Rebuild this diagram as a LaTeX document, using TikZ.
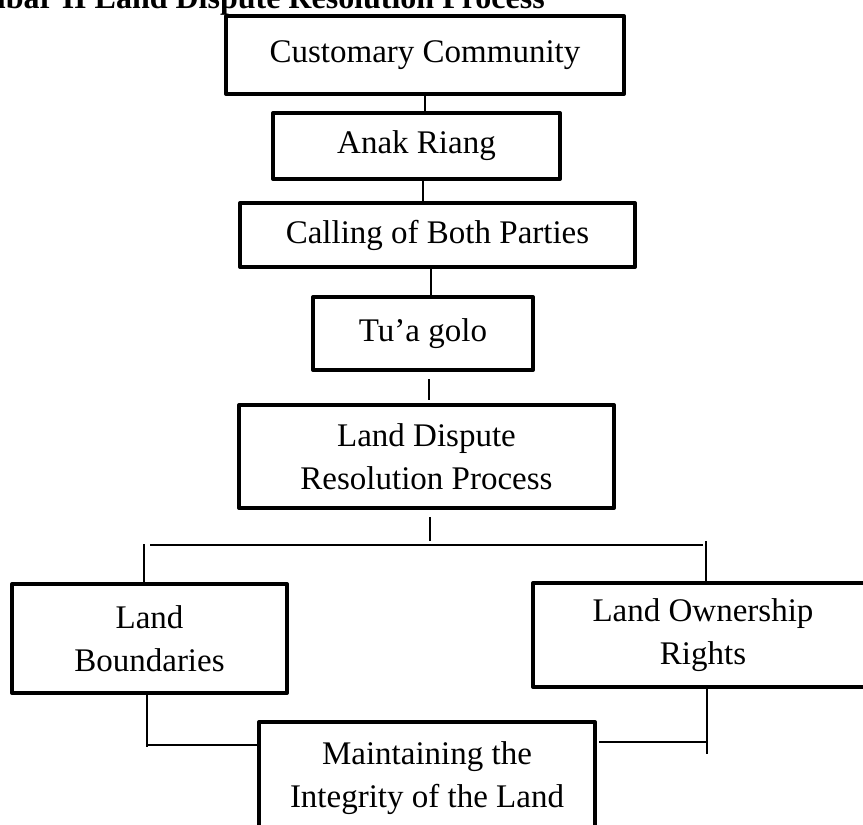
\documentclass[tikz,border=0pt]{standalone}
\usepackage{fontspec}
\setmainfont{Liberation Serif}
\usetikzlibrary{calc}
\begin{document}
\begin{tikzpicture}[x=1pt,y=-1pt,
  box/.style={draw,line width=4pt,line join=round,inner sep=0pt,align=center,
    font=\fontsize{33}{43}\selectfont},
  conn/.style={line width=1.6pt}]
\useasboundingbox (0,0) rectangle (863,825);
\clip (0,0) rectangle (863,825);
\fill[white] (0,0) rectangle (863,825);
\node[anchor=base east,font=\bfseries\fontsize{32}{38}\selectfont,inner sep=0pt] (title) at (545,8) {Gambar II Land Dispute Resolution Process};
\node[box,minimum width=398pt,minimum height=78pt] (A) at (425,55) {Customary Community};
\node[box,minimum width=287pt,minimum height=66pt] (B) at (416.5,146) {Anak Riang};
\node[box,minimum width=395pt,minimum height=64pt] (C) at (437.5,235) {Calling of Both Parties};
\node[box,minimum width=220pt,minimum height=73pt] (D) at (423,333.5) {Tu’a golo};
\node[box,minimum width=375pt,minimum height=103pt] (E) at (426.5,456.5) {Land Dispute\\Resolution Process};
\node[box,minimum width=275pt,minimum height=109pt] (F) at (149.5,638.5) {Land\\Boundaries};
\node[box,minimum width=340pt,minimum height=104pt] (G) at (703,635) {Land Ownership\\Rights};
\node[box,minimum width=336pt,minimum height=112pt] (H) at (427,778) {Maintaining the\\Integrity of the Land};
% connectors
\draw[conn] (A.south) -- (A.south |- B.north);
\coordinate (b1) at ($(B.south)+(6.5,0)$);
\draw[conn] (b1) -- (b1 |- C.north);
\coordinate (c1) at ($(C.south)+(-6.5,0)$);
\draw[conn] (c1) -- (c1 |- D.north);
\coordinate (d1) at ($(D.south)+(6,7)$);
\coordinate (d2) at ($(E.north)+(2.5,-3)$);
\draw[conn] (d1) -- (d1 |- d2);
\coordinate (e1) at ($(E.south)+(3.5,7)$);
\coordinate (e2) at ($(E.south)+(3.5,31)$);
\draw[conn] (e1) -- (e2);
\coordinate (busL) at ($(F.north)+(0.5,-37)$);
\coordinate (busR) at ($(G.north)+(0,-36)$);
\draw[conn] (busL) -- (busR);
\coordinate (fl) at ($(F.north)+(-5.5,-38)$);
\draw[conn] (fl) -- (fl |- F.north);
\coordinate (gr) at ($(G.north)+(3,-40)$);
\draw[conn] (gr) -- (gr |- G.north);
\coordinate (f1) at ($(F.south)+(-2.5,0)$);
\draw[conn] (f1) -- ++(0,52);
\coordinate (hl) at ($(H.north west)+(0,25)$);
\draw[conn] (hl -| f1) -- (hl);
\coordinate (g1) at ($(G.south)+(4,0)$);
\draw[conn] (g1) -- ++(0,65);
\coordinate (hr) at ($(H.north east)+(2,22)$);
\draw[conn] (hr) -- (hr -| g1);
\end{tikzpicture}
\end{document}
